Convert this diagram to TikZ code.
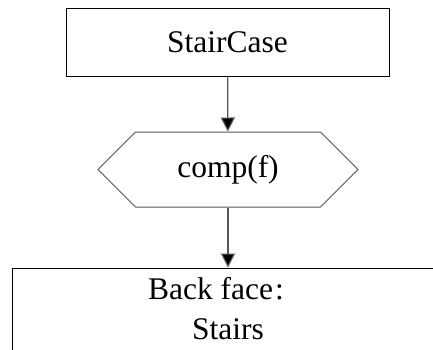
\documentclass[tikz,border=0pt]{standalone}
\usepackage{fontspec}
\setmainfont{Liberation Serif}
\usetikzlibrary{arrows.meta,shapes.symbols}
\definecolor{flowgray}{HTML}{555555}

\tikzset{
  flowbox/.style={draw=black,line width=1pt,rectangle,inner sep=0pt,
    font=\fontsize{31.5}{32}\selectfont},
  flowhex/.style={draw=flowgray,line width=1pt,signal,signal to=west and east,
    signal pointer angle=90,inner sep=0pt,font=\fontsize{31.5}{32}\selectfont},
  flowarrow/.style={draw=flowgray,line width=1.2pt,
    -{Triangle[length=14pt,width=14pt,fill=black]}}
}

\begin{document}
\begin{tikzpicture}[x=1pt,y=-1pt]
  \useasboundingbox (0,0) rectangle (433,349);
  \clip (0,0) rectangle (433,349);
  \node[flowbox,minimum width=323,minimum height=68] (stair) at (227.5,42) {StairCase};
  \node[flowhex,minimum width=260,minimum height=75] (comp) at (228,169.5) {comp(f)};
  \node[flowbox,anchor=north,minimum width=432,align=center,inner ysep=9pt,
    text depth=80pt,font=\fontsize{31.5}{40}\selectfont] (back) at (228,267.5)
    {Back face\kern2pt:\hspace*{24pt}\\Stairs};
  \draw[flowarrow] (stair) -- (comp);
  \draw[flowarrow] (comp) -- (back);
\end{tikzpicture}
\end{document}
